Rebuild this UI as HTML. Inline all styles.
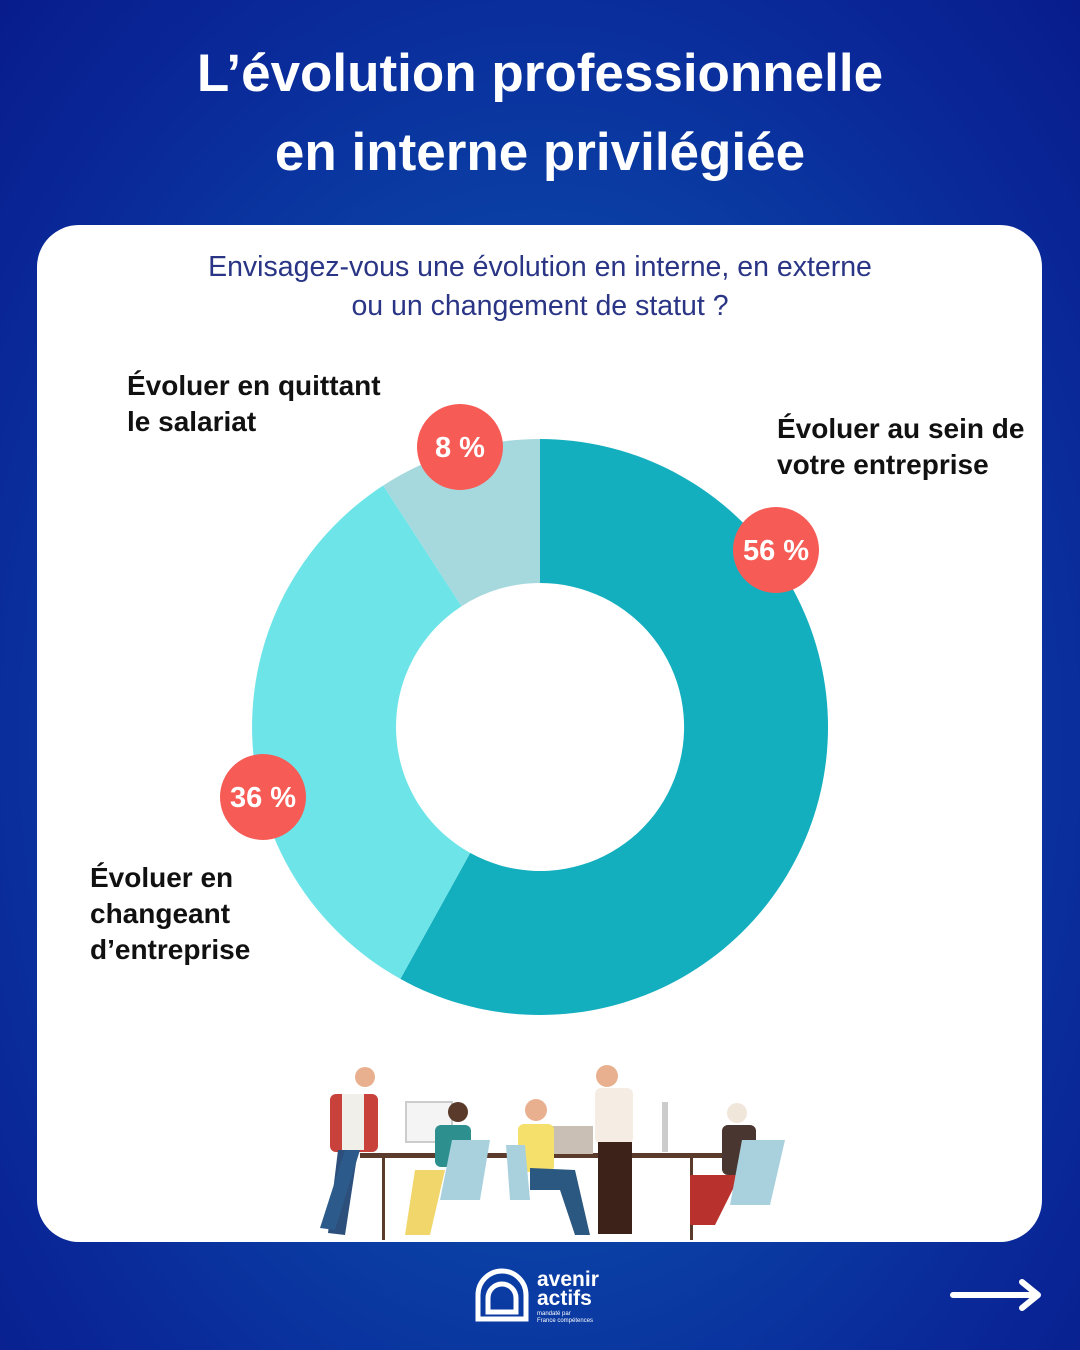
<!DOCTYPE html>
<html><head><meta charset="utf-8"><style>
html,body{margin:0;padding:0}
body{width:1080px;height:1350px;overflow:hidden;background:radial-gradient(ellipse at 50% 55%,#0d5fb8 0%,#0a46a8 40%,#0a2a9a 75%,#081c8c 100%);font-family:"Liberation Sans","DejaVu Sans",sans-serif;position:relative}
.t{position:absolute;left:0;width:1080px;text-align:center;color:#fff;font-weight:bold;font-size:53px;line-height:79px;top:34px}
.card{position:absolute;left:37px;top:225px;width:1005px;height:1017px;background:#fff;border-radius:42px}
.sub{position:absolute;left:0;width:1080px;text-align:center;top:248px;font-size:28.5px;line-height:39px;color:#2a3585}
.lab{position:absolute;font-weight:bold;font-size:28px;line-height:36px;color:#111}
</style></head><body>
<div class="t">L’évolution professionnelle<br>en interne privilégiée</div>
<div class="card"></div>
<div class="sub">Envisagez-vous une évolution en interne, en externe<br>ou un changement de statut ?</div>
<div class="lab" style="left:127px;top:368px">Évoluer en quittant<br>le salariat</div>
<div class="lab" style="left:777px;top:411px">Évoluer au sein de<br>votre entreprise</div>
<div class="lab" style="left:90px;top:860px">Évoluer en<br>changeant<br>d’entreprise</div>
<svg width="1080" height="1350" style="position:absolute;left:0;top:0">
<path d="M540 439 A288 288 0 1 1 400.4 978.9 L470.2 852.9 A144 144 0 1 0 540 583 Z" fill="#14afbf"/>
<path d="M400.4 978.9 A288 288 0 0 1 383.2 485.5 L461.6 606.2 A144 144 0 0 0 470.2 852.9 Z" fill="#6de4e8"/>
<path d="M383.2 485.5 A288 288 0 0 1 540 439 L540 583 A144 144 0 0 0 461.6 606.2 Z" fill="#a6d9de"/>
<g font-family="Liberation Sans,sans-serif" font-weight="bold" font-size="29" fill="#fff" text-anchor="middle">
<circle cx="460" cy="447" r="43" fill="#f65b55"/><text x="460" y="457">8 %</text>
<circle cx="776" cy="550" r="43" fill="#f65b55"/><text x="776" y="560">56 %</text>
<circle cx="263" cy="797" r="43" fill="#f65b55"/><text x="263" y="807">36 %</text>
</g>
<g>
<rect x="360" y="1153" width="400" height="5" fill="#5a3a2a"/>
<rect x="382" y="1158" width="3" height="82" fill="#5a3a2a"/>
<rect x="690" y="1158" width="3" height="82" fill="#5a3a2a"/>
<rect x="406" y="1102" width="46" height="40" fill="#f4f4f4" stroke="#ccc" stroke-width="2"/>
<rect x="547" y="1126" width="46" height="28" fill="#c9bfb5"/>
<rect x="662" y="1102" width="6" height="50" fill="#ccc"/>
<circle cx="365" cy="1077" r="10" fill="#e8b08e"/>
<rect x="330" y="1094" width="48" height="58" rx="6" fill="#c8413a"/>
<rect x="342" y="1094" width="22" height="56" fill="#f1efe9"/>
<path d="M338 1150 L358 1150 L345 1235 L328 1233 Z" fill="#2c4f7c"/>
<path d="M345 1150 L360 1150 L335 1230 L320 1228 Z" fill="#2c5a8a"/>
<circle cx="458" cy="1112" r="10" fill="#5a3a2a"/>
<rect x="435" y="1125" width="36" height="42" rx="6" fill="#2e8f8f"/>
<path d="M415 1170 L445 1170 L430 1235 L405 1235 Z" fill="#f1d76b"/>
<path d="M452 1140 L490 1140 L480 1200 L440 1200 Z" fill="#a9d0dd"/>
<circle cx="536" cy="1110" r="11" fill="#e8b08e"/>
<rect x="518" y="1124" width="36" height="48" rx="6" fill="#f4e06a"/>
<path d="M530 1168 L575 1170 L590 1235 L575 1235 L560 1190 L530 1190 Z" fill="#2a5880"/>
<path d="M506 1145 L525 1145 L530 1200 L510 1200 Z" fill="#a9d0dd"/>
<circle cx="607" cy="1076" r="11" fill="#e8b08e"/>
<rect x="595" y="1088" width="38" height="56" rx="6" fill="#f5ece4"/>
<rect x="598" y="1142" width="34" height="92" fill="#3c2218"/>
<circle cx="737" cy="1113" r="10" fill="#f1e6da"/>
<rect x="722" y="1125" width="34" height="50" rx="6" fill="#4a3630"/>
<path d="M690 1175 L740 1175 L715 1225 L690 1225 Z" fill="#b8312c"/>
<path d="M742 1140 L785 1140 L770 1205 L730 1205 Z" fill="#a9d0dd"/>
</g>
<g fill="none" stroke="#fff" stroke-width="5">
<path d="M478 1319 L478 1295 A24 24 0 0 1 526 1295 L526 1319 Z"/>
<path d="M488 1312 L488 1298 A14 14 0 0 1 516 1298 L516 1312 Z"/>
</g>
<text x="537" y="1286" font-family="Liberation Sans,sans-serif" font-weight="bold" font-size="21" fill="#fff">avenir</text>
<text x="537" y="1305" font-family="Liberation Sans,sans-serif" font-weight="bold" font-size="21" fill="#fff">actifs</text>
<text x="537" y="1315" font-family="Liberation Sans,sans-serif" font-size="6" fill="#fff">mandaté par</text>
<text x="537" y="1322" font-family="Liberation Sans,sans-serif" font-size="6" fill="#fff">France compétences</text>
<path d="M953 1295 L1036 1295 M1022 1282 L1038 1295 L1022 1308" stroke="#fff" stroke-width="6" fill="none" stroke-linecap="round" stroke-linejoin="round"/>
</svg>
</body></html>
